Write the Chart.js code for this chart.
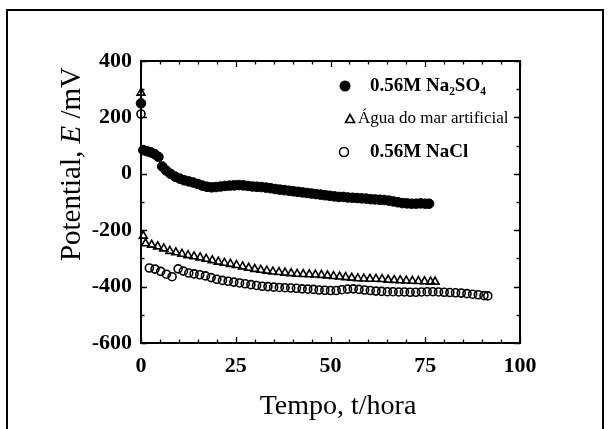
<!DOCTYPE html>
<html><head><meta charset="utf-8">
<script src="https://cdn.jsdelivr.net/npm/chart.js@4.4.1/dist/chart.umd.min.js"></script>
<style>
html,body{margin:0;padding:0;background:#fff;}
#wrap{position:relative;width:611px;height:429px;overflow:hidden;background:#fff;}
#frame{position:absolute;left:6px;top:9px;width:598px;height:440px;border:2px solid #000;box-sizing:border-box;}
canvas{position:absolute;left:0;top:0;}
</style></head><body>
<div id="wrap"><div id="frame"></div><canvas id="c" width="611" height="429"></canvas></div>
<script>
// ---- data ----
const seriesLabels = ['0.56M Na₂SO₄', 'Água do mar artificial', '0.56M NaCl'];

const tNa2SO4 = [0, 0.6, 1.6, 2.6, 3.6, 4.6, 5.6, 6.6, 7.8, 9.0, 10.2, 11.4, 12.6, 13.8, 15.0, 16.2, 17.4, 18.6, 19.8, 21.0, 22.2, 23.4, 24.6, 25.8, 27.0, 28.2, 29.4, 30.6, 31.8, 33.0, 34.2, 35.4, 36.6, 37.8, 39.0, 40.2, 41.4, 42.6, 43.8, 45.0, 46.2, 47.4, 48.6, 49.8, 51.0, 52.2, 53.4, 54.6, 55.8, 57.0, 58.2, 59.4, 60.6, 61.8, 63.0, 64.2, 65.4, 66.6, 67.8, 69.0, 70.2, 71.4, 72.6, 73.8, 75.0, 76.0];
const eNa2SO4 = [250, 84, 80, 76, 70, 60, 26, 12, 0, -10, -17, -23, -27, -31, -36, -42, -46, -48, -47, -45, -43, -42, -41, -40, -41, -43, -45, -46, -47, -49, -51, -54, -56, -58, -60, -62, -64, -66, -68, -70, -72, -74, -76, -78, -80, -82, -82, -84, -85, -86, -87, -88, -90, -91, -92, -93, -95, -98, -101, -104, -105, -106, -106, -105, -106, -106];

const tAgua = [0, 0.6, 1.2, 2.8, 4.4, 6.0, 7.6, 9.2, 10.8, 12.4, 14.0, 15.6, 17.2, 18.8, 20.4, 22.0, 23.6, 25.2, 26.8, 28.4, 30.0, 31.6, 33.2, 34.8, 36.4, 38.0, 39.6, 41.2, 42.8, 44.4, 46.0, 47.6, 49.2, 50.8, 52.4, 54.0, 55.6, 57.2, 58.8, 60.4, 62.0, 63.6, 65.2, 66.8, 68.4, 70.0, 71.6, 73.2, 74.8, 76.4, 77.6];
const eAgua = [287, -220, -247, -252, -258, -265, -274, -279, -284, -289, -293, -297, -302, -307, -312, -316, -320, -324, -329, -334, -338, -341, -344, -347, -349, -351, -353, -355, -356, -357, -358, -359, -361, -363, -365, -367, -369, -371, -372, -373, -373, -374, -376, -377, -378, -379, -380, -381, -382, -383, -383];

const tNaCl = [0, 2.2, 3.7, 5.2, 6.7, 8.2, 9.8, 11.2, 12.6, 14.0, 15.5, 17.0, 18.5, 20.0, 21.5, 23.0, 24.5, 26.0, 27.5, 29.0, 30.5, 32.0, 33.5, 35.0, 36.5, 38.0, 39.5, 41.0, 42.5, 44.0, 45.5, 47.0, 48.5, 50.0, 51.5, 53.0, 54.5, 56.0, 57.5, 59.0, 60.5, 62.0, 63.5, 65.0, 66.5, 68.0, 69.5, 71.0, 72.5, 74.0, 75.5, 77.0, 78.5, 80.0, 81.5, 83.0, 84.5, 86.0, 87.5, 89.0, 90.5, 91.5];
const eNaCl = [212, -334, -338, -346, -356, -365, -337, -345, -352, -355, -358, -362, -368, -374, -378, -381, -384, -387, -390, -393, -396, -399, -400, -402, -403, -404, -405, -406, -408, -409, -410, -412, -413, -414, -414, -411, -409, -408, -410, -412, -414, -416, -417, -418, -418, -419, -419, -420, -420, -419, -418, -418, -419, -420, -421, -422, -423, -425, -427, -429, -432, -433];

const xTickValues = [0, 25, 50, 75, 100];
const yTickValues = [-600, -400, -200, 0, 200, 400];
const xTitle = 'Tempo, t/hora';
const yTitleParts = ['Potential, ', 'E', ' /mV'];

// ---- build ----
const pts = (t, e) => t.map((x, i) => ({x: x, y: e[i]}));
const SERIF = '"Liberation Serif", "Times New Roman", serif';

const framePlugin = {
  id: 'frameTicks',
  afterDraw(chart) {
    const ctx = chart.ctx, a = chart.chartArea;
    const xs = chart.scales.x, ys = chart.scales.y;
    ctx.save();
    ctx.strokeStyle = '#000';
    ctx.lineWidth = 2;
    ctx.strokeRect(a.left, a.top, a.right - a.left, a.bottom - a.top);
    ctx.lineWidth = 1.3;
    ctx.beginPath();
    for (let v = xs.min; v <= xs.max; v += 5) {
      const px = Math.round(xs.getPixelForValue(v)) + 0.5;
      const L = (v % 25 === 0) ? 6 : 3.5;
      ctx.moveTo(px, a.bottom); ctx.lineTo(px, a.bottom - L);
      ctx.moveTo(px, a.top); ctx.lineTo(px, a.top + L);
    }
    for (let v = ys.min; v <= ys.max; v += 100) {
      const py = Math.round(ys.getPixelForValue(v)) + 0.5;
      const L = (v % 200 === 0) ? 6 : 3.5;
      ctx.moveTo(a.left, py); ctx.lineTo(a.left + L, py);
      ctx.moveTo(a.right, py); ctx.lineTo(a.right - L, py);
    }
    ctx.stroke();

    // axis titles
    ctx.fillStyle = '#000';
    ctx.font = '28px ' + SERIF;
    ctx.textAlign = 'center';
    ctx.textBaseline = 'middle';
    ctx.fillText(xTitle, 338, 407);

    ctx.save();
    ctx.translate(72, 164);
    ctx.rotate(-Math.PI / 2);
    const fN = '29px ' + SERIF, fI = 'italic 29px ' + SERIF;
    ctx.font = fN; const w0 = ctx.measureText(yTitleParts[0]).width;
    ctx.font = fI; const w1 = ctx.measureText(yTitleParts[1]).width;
    ctx.font = fN; const w2 = ctx.measureText(yTitleParts[2]).width;
    let x0 = -(w0 + w1 + w2) / 2;
    ctx.textAlign = 'left';
    ctx.font = fN; ctx.fillText(yTitleParts[0], x0, 0);
    ctx.font = fI; ctx.fillText(yTitleParts[1], x0 + w0, 0);
    ctx.font = fN; ctx.fillText(yTitleParts[2], x0 + w0 + w1, 0);
    ctx.restore();

    // legend
    const rows = [
      {mx: 345, y: 86, tx: 370, style: 'fill', font: 'bold 19px '},
      {mx: 350, y: 119, tx: 358, style: 'tri', font: '17px '},
      {mx: 344, y: 152, tx: 370, style: 'open', font: 'bold 19px '}
    ];
    rows.forEach((r, i) => {
      ctx.lineWidth = 1.6;
      ctx.strokeStyle = '#000';
      ctx.fillStyle = '#000';
      ctx.beginPath();
      if (r.style === 'fill') {
        ctx.arc(r.mx, r.y, 5.5, 0, Math.PI * 2); ctx.fill();
      } else if (r.style === 'open') {
        ctx.arc(r.mx, r.y, 4.5, 0, Math.PI * 2); ctx.stroke();
      } else {
        ctx.moveTo(r.mx, r.y - 4.5); ctx.lineTo(r.mx + 4.5, r.y + 3.5); ctx.lineTo(r.mx - 4.5, r.y + 3.5); ctx.closePath(); ctx.stroke();
      }
      ctx.font = r.font + SERIF;
      ctx.textAlign = 'left';
      ctx.textBaseline = 'middle';
      ctx.fillText(chart.data.datasets[i].label, r.tx, r.y);
    });
    ctx.restore();
  }
};

new Chart(document.getElementById('c'), {
  type: 'scatter',
  data: {
    datasets: [
      {label: seriesLabels[0], data: pts(tNa2SO4, eNa2SO4), pointStyle: 'circle', pointRadius: 4.8,
       backgroundColor: '#000', borderColor: '#000', borderWidth: 1, clip: false},
      {label: seriesLabels[1], data: pts(tAgua, eAgua), pointStyle: 'triangle', pointRadius: 4.6,
       backgroundColor: 'rgba(255,255,255,0)', borderColor: '#000', borderWidth: 1.6, clip: false},
      {label: seriesLabels[2], data: pts(tNaCl, eNaCl), pointStyle: 'circle', pointRadius: 4,
       backgroundColor: 'rgba(255,255,255,0)', borderColor: '#000', borderWidth: 1.6, clip: false}
    ]
  },
  options: {
    responsive: false,
    animation: false,
    devicePixelRatio: 1,
    layout: {padding: {left: 0, top: 61, right: 91, bottom: 0}},
    plugins: {legend: {display: false}, tooltip: {enabled: false}},
    scales: {
      x: {
        type: 'linear', min: 0, max: 100,
        afterBuildTicks: (s) => { s.ticks = xTickValues.map(v => ({value: v})); },
        afterFit: (s) => { s.height = 86; },
        grid: {display: false, drawTicks: false},
        border: {display: false},
        ticks: {color: '#000', padding: 10, maxRotation: 0, font: {family: SERIF, size: 22, weight: 'bold'}}
      },
      y: {
        type: 'linear', min: -600, max: 400,
        afterBuildTicks: (s) => { s.ticks = yTickValues.map(v => ({value: v})); },
        afterFit: (s) => { s.width = 141; },
        grid: {display: false, drawTicks: false},
        border: {display: false},
        ticks: {color: '#000', padding: 9, font: {family: SERIF, size: 22, weight: 'bold'}}
      }
    }
  },
  plugins: [framePlugin]
});
</script>
</body></html>
